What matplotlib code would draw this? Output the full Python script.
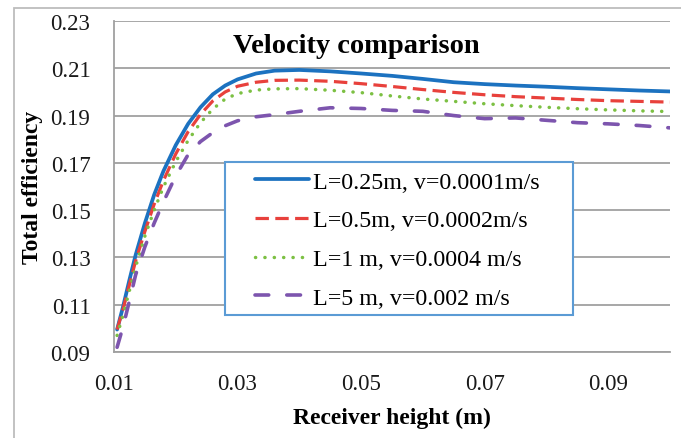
import matplotlib.pyplot as plt
from matplotlib.patches import Rectangle

plt.rcParams['font.family'] = ['Liberation Serif', 'DejaVu Serif']

# Receiver height (m)
altura = [0.0105, 0.0115, 0.0125, 0.0135, 0.015, 0.0165, 0.018, 0.02, 0.022, 0.024,
          0.026, 0.028, 0.03, 0.033, 0.036, 0.04, 0.045, 0.05, 0.055, 0.06,
          0.065, 0.07, 0.075, 0.08, 0.085, 0.09, 0.095, 0.1]

# Total efficiency for each case
ef_025 = [0.0995, 0.1095, 0.1205, 0.1310, 0.1445, 0.1565, 0.1665, 0.1775, 0.1865, 0.1935,
          0.1990, 0.2027, 0.2053, 0.2078, 0.2090, 0.2093, 0.2087, 0.2078, 0.2068, 0.2055,
          0.2041, 0.2033, 0.2027, 0.2022, 0.2016, 0.2011, 0.2006, 0.2002]
ef_05 = [0.0995, 0.1085, 0.1185, 0.1285, 0.1410, 0.1525, 0.1625, 0.1738, 0.1832, 0.1905,
         0.1962, 0.2000, 0.2024, 0.2041, 0.2049, 0.2050, 0.2045, 0.2035, 0.2023, 0.2010,
         0.1998, 0.1988, 0.1980, 0.1974, 0.1968, 0.1963, 0.1960, 0.1957]
ef_1 = [0.0970, 0.1060, 0.1160, 0.1260, 0.1390, 0.1500, 0.1598, 0.1705, 0.1795, 0.1870,
        0.1928, 0.1970, 0.1993, 0.2008, 0.2013, 0.2014, 0.2007, 0.1997, 0.1983, 0.1970,
        0.1960, 0.1950, 0.1942, 0.1935, 0.1929, 0.1924, 0.1920, 0.1917]
ef_5 = [0.0920, 0.1010, 0.1117, 0.1226, 0.1345, 0.1445, 0.1535, 0.1645, 0.1735, 0.1790,
        0.1828, 0.1857, 0.1878, 0.1895, 0.1904, 0.1918, 0.1933, 0.1930, 0.1922, 0.1918,
        0.1900, 0.1887, 0.1890, 0.1880, 0.1870, 0.1865, 0.1858, 0.1848]

etiquetas = ["L=0.25m, v=0.0001m/s", "L=0.5m, v=0.0002m/s",
             "L=1 m, v=0.0004 m/s", "L=5 m, v=0.002 m/s"]

W, H = 681, 439
fig = plt.figure(figsize=(W / 100, H / 100), dpi=100)
ax = fig.add_axes([114 / W, 1 - 353 / H, (670 - 114) / W, (353 - 22) / H])

# borde exterior del area del grafico
fig.patches.append(Rectangle((14 / W, -0.02), 1.1, 1 - 9 / H + 0.02, transform=fig.transFigure,
                             fill=False, edgecolor='#BDBDBD', linewidth=1.3))

l1, = ax.plot(altura, ef_025, color='#1C72C0', lw=2.7, solid_capstyle='round')
l2, = ax.plot(altura, ef_05, color='#E8413C', lw=2.3, dashes=(4.2, 2.0))
l3, = ax.plot(altura, ef_1, color='#7CC043', lw=2.5, dashes=(0.05, 2.65), dash_capstyle='round')
l4, = ax.plot(altura, ef_5, color='#7D55AE', lw=2.6, dashes=(3.8, 5.0), dash_capstyle='round')

ax.set_xlim(0.01, 0.1)
ax.set_ylim(0.09, 0.23)
ax.set_xticks([0.01, 0.03, 0.05, 0.07, 0.09])
ax.set_xticklabels(['0.01', '0.03', '0.05', '0.07', '0.09'])
ax.set_yticks([0.09, 0.11, 0.13, 0.15, 0.17, 0.19, 0.21, 0.23])
ax.set_yticklabels(['0.09', '0.11', '0.13', '0.15', '0.17', '0.19', '0.21', '0.23'])
ax.tick_params(axis='both', length=0, labelsize=16.5, colors='#1A1A1A')
ax.tick_params(axis='y', pad=17)
ax.tick_params(axis='x', pad=15)
ax.grid(axis='y', color='#A0A0A0', lw=1.3)
ax.set_axisbelow(True)
for lado in ['top', 'right']:
    ax.spines[lado].set_visible(False)
for lado in ['left', 'bottom']:
    ax.spines[lado].set_color('#A0A0A0')
    ax.spines[lado].set_linewidth(1.3)

ax.set_xlabel('Receiver height (m)', fontsize=17, fontweight='bold', labelpad=9)
ax.set_ylabel('Total efficiency', fontsize=17, fontweight='bold', labelpad=5)
ax.text(0.435, 0.925, 'Velocity comparison', transform=ax.transAxes, ha='center', va='center',
        fontsize=20.5, fontweight='bold')

# recuadro de la leyenda
fig.patches.append(Rectangle((225 / W, 1 - 316 / H), (573 - 225) / W, (316 - 163) / H,
                             transform=fig.transFigure, facecolor='white',
                             edgecolor='#5B9BD5', linewidth=1.5, zorder=3))
leg = fig.legend([l1, l2, l3, l4], etiquetas, loc='upper left',
                 bbox_to_anchor=(255 / W, 1 - 172 / H), frameon=False, fontsize=17.3,
                 handlelength=2.25, handletextpad=0.18, labelspacing=0.7, borderpad=0,
                 borderaxespad=0)
leg.set_zorder(4)

fig.savefig('out.png', dpi=100)
